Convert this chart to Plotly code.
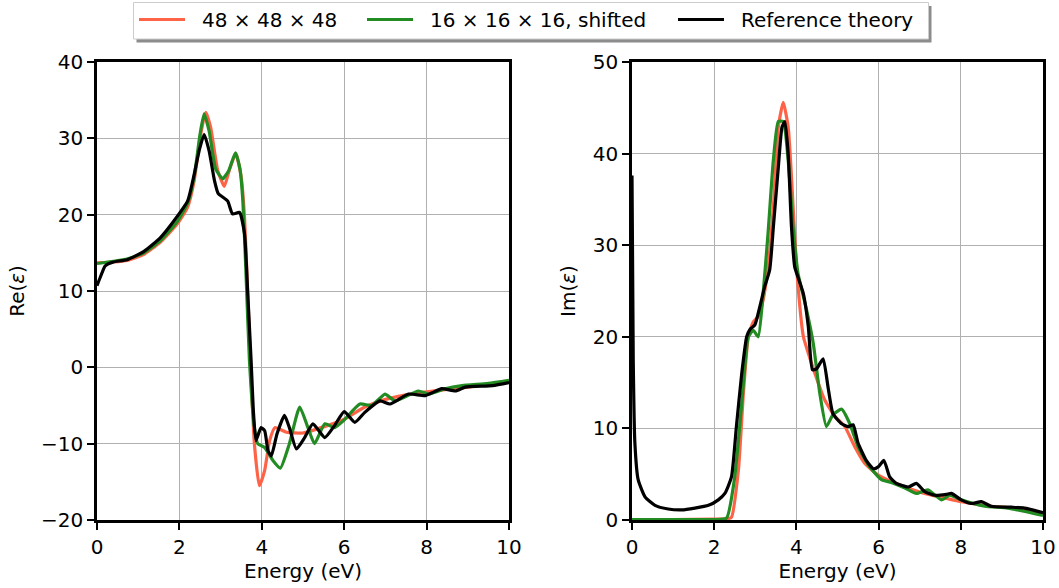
import plotly.graph_objects as go

# ---------------- data: Re(eps) ----------------
re_red_x = [0, 0.4, 0.73, 1.14, 1.54, 1.95, 2.2, 2.36, 2.52, 2.64, 2.76, 2.93, 3.09, 3.21, 3.37, 3.5, 3.58, 3.66, 3.74, 3.82, 3.94, 4.07, 4.19, 4.32, 4.6, 5.0, 5.5, 6.0, 6.5, 7.0, 7.5, 8.0, 8.5, 9.0, 9.5, 10]
re_red_y = [13.7, 13.8, 14.0, 14.8, 16.4, 18.8, 21.0, 24.5, 30.6, 33.4, 31.4, 25.8, 23.7, 25.8, 28.0, 24.9, 19.7, 9.6, -1.3, -10.0, -15.5, -13.5, -9.6, -7.9, -8.5, -8.6, -7.8, -6.8, -5.2, -4.2, -3.6, -3.2, -2.9, -2.6, -2.2, -1.8]

re_green_x = [0, 0.4, 0.73, 1.14, 1.54, 1.95, 2.2, 2.36, 2.5, 2.6, 2.72, 2.88, 3.05, 3.2, 3.36, 3.47, 3.54, 3.62, 3.7, 3.82, 3.9, 4.07, 4.27, 4.45, 4.67, 4.92, 5.12, 5.28, 5.53, 5.77, 5.98, 6.38, 6.67, 6.99, 7.24, 7.8, 8.05, 8.45, 8.86, 9.5, 10]
re_green_y = [13.6, 13.9, 14.2, 15.0, 16.6, 19.1, 21.5, 25.0, 30.5, 33.2, 31.0, 26.0, 24.7, 25.8, 28.1, 26.0, 21.8, 11.8, 0.9, -7.9, -10.0, -10.5, -12.2, -13.2, -10.0, -5.2, -7.9, -10.0, -7.4, -7.9, -7.0, -4.8, -5.0, -3.5, -4.4, -3.1, -3.5, -2.8, -2.4, -2.1, -1.7]

re_ref_x = [0, 0.08, 0.2, 0.4, 0.73, 1.14, 1.54, 1.87, 2.2, 2.36, 2.48, 2.6, 2.72, 2.85, 2.94, 3.17, 3.29, 3.46, 3.58, 3.66, 3.74, 3.8, 3.86, 3.98, 4.07, 4.15, 4.23, 4.37, 4.55, 4.67, 4.84, 5.04, 5.24, 5.53, 5.77, 6.0, 6.26, 6.5, 6.87, 7.11, 7.56, 7.97, 8.37, 8.7, 8.94, 9.6, 10]
re_ref_y = [10.7, 11.8, 13.3, 13.8, 14.1, 15.2, 17.0, 19.2, 21.8, 25.3, 28.4, 30.5, 28.4, 24.5, 22.8, 21.8, 20.1, 20.3, 17.5, 9.6, 0.9, -6.1, -9.6, -7.9, -8.3, -10.9, -11.6, -8.7, -6.3, -7.9, -10.7, -9.2, -7.4, -9.2, -7.6, -5.8, -7.2, -5.9, -4.4, -4.8, -3.5, -3.7, -2.8, -3.1, -2.6, -2.4, -2.0]

# ---------------- data: Im(eps) ----------------
im_red_x = [0, 1.0, 2.0, 2.3, 2.42, 2.59, 2.71, 2.83, 2.95, 3.07, 3.19, 3.31, 3.44, 3.56, 3.68, 3.8, 3.88, 3.96, 4.04, 4.17, 4.29, 4.45, 4.69, 4.94, 5.18, 5.42, 5.66, 5.99, 6.31, 6.72, 7.12, 7.61, 8.01, 8.74, 9.55, 10]
im_red_y = [0.05, 0.05, 0.1, 0.1, 0.3, 5.5, 13.8, 20.0, 21.6, 22.2, 24.0, 27.6, 34.2, 42.9, 45.6, 42.9, 37.5, 30.9, 25.5, 20.0, 18.2, 16.0, 13.1, 11.3, 10.2, 8.0, 6.2, 4.9, 4.2, 3.5, 2.9, 2.4, 2.0, 1.5, 1.2, 0.7]

im_green_x = [0, 1.0, 2.0, 2.3, 2.5, 2.67, 2.83, 2.95, 3.07, 3.19, 3.31, 3.44, 3.56, 3.68, 3.8, 3.92, 4.04, 4.25, 4.41, 4.57, 4.73, 4.89, 5.1, 5.3, 5.5, 5.75, 6.07, 6.31, 6.64, 6.92, 7.2, 7.53, 7.73, 8.01, 8.58, 9.15, 10]
im_green_y = [0.05, 0.05, 0.05, 0.2, 4.7, 12.7, 20.0, 20.7, 20.0, 24.7, 31.3, 39.3, 43.5, 43.5, 39.3, 32.0, 26.9, 22.9, 19.3, 13.8, 10.2, 11.5, 12.1, 10.5, 8.0, 6.0, 4.4, 4.1, 3.5, 2.9, 3.3, 2.2, 2.7, 2.2, 1.5, 1.3, 0.5]

im_ref_x = [0, 0.03, 0.07, 0.15, 0.32, 0.56, 0.88, 1.21, 1.53, 1.86, 2.1, 2.26, 2.42, 2.54, 2.67, 2.79, 2.87, 2.99, 3.11, 3.23, 3.35, 3.44, 3.56, 3.65, 3.72, 3.8, 3.88, 3.96, 4.04, 4.17, 4.29, 4.39, 4.49, 4.65, 4.77, 4.89, 5.1, 5.26, 5.38, 5.5, 5.7, 5.87, 5.99, 6.13, 6.27, 6.43, 6.72, 6.92, 7.12, 7.37, 7.65, 7.77, 8.01, 8.26, 8.5, 8.74, 9.23, 9.55, 10]
im_ref_y = [37.6, 17.5, 8.4, 4.4, 2.5, 1.6, 1.2, 1.1, 1.3, 1.6, 2.2, 2.9, 4.7, 10.2, 16.0, 20.0, 20.8, 21.3, 23.3, 25.5, 27.3, 32.0, 38.5, 42.9, 43.5, 40.0, 32.0, 27.6, 26.5, 24.7, 21.1, 16.4, 16.5, 17.6, 14.5, 11.6, 10.5, 10.2, 10.4, 8.4, 6.5, 5.6, 5.8, 6.5, 4.7, 4.0, 3.6, 4.0, 3.1, 2.7, 2.8, 2.9, 2.2, 1.8, 2.0, 1.5, 1.4, 1.3, 0.8]

names = ["48 × 48 × 48", "16 × 16 × 16, shifted", "Reference theory"]
colors = ["#ff6347", "#228b22", "#000000"]

W, H = 1059, 588
FONT = "DejaVu Sans"
FS = 20
LW = 3.2

fig = go.Figure()

series_left = [(re_red_x, re_red_y), (re_green_x, re_green_y), (re_ref_x, re_ref_y)]
series_right = [(im_red_x, im_red_y), (im_green_x, im_green_y), (im_ref_x, im_ref_y)]

for i, (x, y) in enumerate(series_left):
    fig.add_trace(go.Scatter(x=x, y=y, mode="lines", name=names[i],
                             line=dict(color=colors[i], width=LW, shape="spline", smoothing=0.5),
                             xaxis="x", yaxis="y", showlegend=False))
for i, (x, y) in enumerate(series_right):
    fig.add_trace(go.Scatter(x=x, y=y, mode="lines", name=names[i],
                             line=dict(color=colors[i], width=LW, shape="spline", smoothing=0.5),
                             xaxis="x2", yaxis="y2", showlegend=False))

axis_common = dict(showline=True, linecolor="black", linewidth=2.5, mirror=True,
                   ticks="outside", ticklen=7, tickwidth=1.6, tickcolor="black",
                   showgrid=True, gridcolor="#b0b0b0", gridwidth=1.2, zeroline=False,
                   automargin=False,
                   tickfont=dict(family=FONT, size=FS, color="black"))


def px2fx(p):
    return p / W


def py2fy(p):
    return 1 - p / H


# ---- legend box (framed, with drop shadow), drawn in paper coordinates ----
shapes = [
    dict(type="rect", xref="paper", yref="paper",
         x0=px2fx(136.5), x1=px2fx(931.5), y0=py2fy(42.5), y1=py2fy(6),
         fillcolor="#8c8c8c", line=dict(width=0), layer="above"),
    dict(type="rect", xref="paper", yref="paper",
         x0=px2fx(133.5), x1=px2fx(928.5), y0=py2fy(39), y1=py2fy(2.5),
         fillcolor="white", line=dict(color="#cccccc", width=1), layer="above"),
]
annotations = []
legend_line_x0 = [139, 367, 678]
legend_text_x0 = [200, 428, 739]
legend_y = 19.5
for i, nm in enumerate(names):
    shapes.append(dict(type="line", xref="paper", yref="paper",
                       x0=px2fx(legend_line_x0[i]), x1=px2fx(legend_line_x0[i] + 46),
                       y0=py2fy(legend_y), y1=py2fy(legend_y),
                       line=dict(color=colors[i], width=LW), layer="above"))
    annotations.append(dict(text=nm, xref="paper", yref="paper",
                            x=px2fx(legend_text_x0[i]), y=py2fy(legend_y),
                            xanchor="left", yanchor="middle", showarrow=False,
                            font=dict(family=FONT, size=FS, color="black")))

fig.update_layout(
    width=W, height=H,
    margin=dict(l=0, r=0, t=0, b=0, autoexpand=False),
    paper_bgcolor="white", plot_bgcolor="white",
    font=dict(family=FONT, size=FS, color="black"),
    showlegend=False,
    xaxis=dict(domain=[px2fx(97), px2fx(509)], range=[0, 10], dtick=2, anchor="y",
               title=dict(text="Energy (eV)", font=dict(family=FONT, size=FS), standoff=6), **axis_common),
    yaxis=dict(domain=[py2fy(520), py2fy(62)], range=[-20, 40], dtick=10, anchor="x",
               title=dict(text="Re(<i>ε</i>)", font=dict(family=FONT, size=FS), standoff=12), **axis_common),
    xaxis2=dict(domain=[px2fx(632), px2fx(1043)], range=[0, 10], dtick=2, anchor="y2",
                title=dict(text="Energy (eV)", font=dict(family=FONT, size=FS), standoff=6), **axis_common),
    yaxis2=dict(domain=[py2fy(520), py2fy(62)], range=[0, 50], dtick=10, anchor="x2",
                title=dict(text="Im(<i>ε</i>)", font=dict(family=FONT, size=FS), standoff=12), **axis_common),
    shapes=shapes,
    annotations=annotations,
)

fig.write_html("out.html")
